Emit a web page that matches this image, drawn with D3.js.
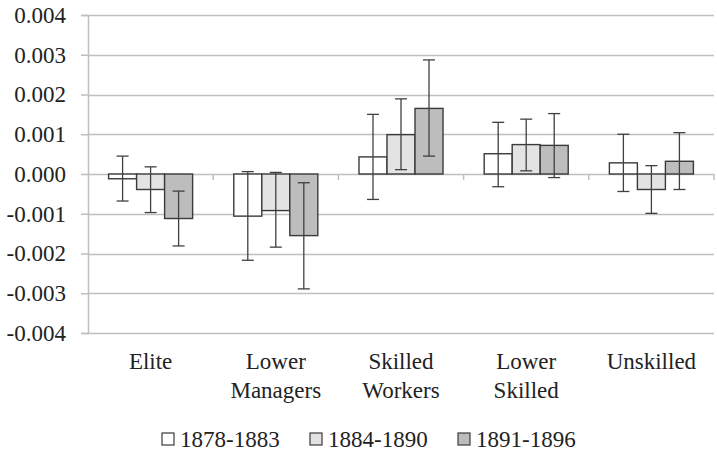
<!DOCTYPE html>
<html>
<head>
<meta charset="utf-8">
<script src="https://cdn.jsdelivr.net/npm/d3@7"></script>
<style>
  body { margin: 0; background: #fff; }
</style>
</head>
<body>
<svg id="chart" width="717" height="450"></svg>
<script>
// data
const categories = ["Elite", "Lower Managers", "Skilled Workers", "Lower Skilled", "Unskilled"];
const periods = ["1878-1883", "1884-1890", "1891-1896"];
const yTicks = [-0.004, -0.003, -0.002, -0.001, 0, 0.001, 0.002, 0.003, 0.004];

const values1878 = [-0.00012, -0.00106, 0.00043, 0.00051, 0.00028];
const values1884 = [-0.00039, -0.00092, 0.00099, 0.00074, -0.00039];
const values1891 = [-0.00112, -0.00155, 0.00165, 0.00072, 0.00032];

// error bar ends (top / bottom)
const hi1878 = [0.00045, 0.00006, 0.00150, 0.00130, 0.00100];
const lo1878 = [-0.00068, -0.00217, -0.00064, -0.00032, -0.00044];
const hi1884 = [0.00018, 0.00004, 0.00189, 0.00138, 0.00021];
const lo1884 = [-0.00097, -0.00184, 0.00011, 0.00008, -0.00099];
const hi1891 = [-0.00043, -0.00022, 0.00287, 0.00152, 0.00104];
const lo1891 = [-0.00181, -0.00289, 0.00045, -0.00009, -0.00039];

const fills = ["#ffffff", "#e3e3e3", "#bdbdbd"];
const FONT = "Liberation Serif";
const FSIZE = 23;

const svg = d3.select("#chart");
const margin = { top: 15, right: 3, bottom: 117, left: 88 };
const width = 717, height = 450;

const series = [
  { key: periods[0], vals: values1878, hi: hi1878, lo: lo1878 },
  { key: periods[1], vals: values1884, hi: hi1884, lo: lo1884 },
  { key: periods[2], vals: values1891, hi: hi1891, lo: lo1891 }
];

const x0 = d3.scaleBand()
  .domain(categories)
  .range([margin.left, width - margin.right])
  .paddingInner(0).paddingOuter(0);

const x1 = d3.scaleBand()
  .domain(periods)
  .range([0, x0.bandwidth()])
  .paddingInner(0)
  .paddingOuter(0.735);

const y = d3.scaleLinear()
  .domain([-0.004, 0.004])
  .range([height - margin.bottom, margin.top]);

const color = d3.scaleOrdinal().domain(periods).range(fills);
const fmt = d3.format(".3f");

// gridlines
svg.append("g")
  .selectAll("line")
  .data(yTicks)
  .join("line")
  .attr("x1", margin.left)
  .attr("x2", width - margin.right)
  .attr("y1", d => Math.round(y(d)) + 0.5)
  .attr("y2", d => Math.round(y(d)) + 0.5)
  .attr("stroke", "#bfbfbf")
  .attr("stroke-width", 1.5);

// y axis
const yAxis = svg.append("g")
  .attr("transform", `translate(${margin.left},0)`)
  .call(d3.axisLeft(y).tickValues(yTicks).tickFormat(d => fmt(d).replace("−", "-")).tickSize(7).tickPadding(15));
yAxis.attr("font-family", FONT).attr("font-size", FSIZE);
yAxis.select(".domain").attr("stroke", "#bfbfbf").attr("stroke-width", 1.5);
yAxis.selectAll(".tick line").attr("stroke", "#bfbfbf").attr("stroke-width", 1.5);
yAxis.selectAll(".tick text").attr("fill", "#222");

// category ticks below the zero line
svg.append("g")
  .selectAll("line")
  .data(categories)
  .join("line")
  .attr("x1", d => x0(d) + x0.bandwidth())
  .attr("x2", d => x0(d) + x0.bandwidth())
  .attr("y1", y(0))
  .attr("y2", y(0) + 6)
  .attr("stroke", "#bfbfbf")
  .attr("stroke-width", 1.5);

// bars
const groups = svg.append("g")
  .selectAll("g")
  .data(series)
  .join("g")
  .attr("fill", d => color(d.key));

groups.selectAll("rect")
  .data(s => s.vals.map((v, i) => ({ key: s.key, cat: categories[i], v })))
  .join("rect")
  .attr("x", d => x0(d.cat) + x1(d.key))
  .attr("width", x1.bandwidth())
  .attr("y", d => y(Math.max(0, d.v)))
  .attr("height", d => Math.abs(y(d.v) - y(0)))
  .attr("stroke", "#3a3a3a")
  .attr("stroke-width", 1.4);

// error bars
const errs = [];
series.forEach(s => {
  categories.forEach((c, i) => {
    errs.push({ key: s.key, cat: c, hi: s.hi[i], lo: s.lo[i] });
  });
});
const eg = svg.append("g").attr("stroke", "#404040").attr("stroke-width", 1.3);
const cx = d => x0(d.cat) + x1(d.key) + x1.bandwidth() / 2;
eg.selectAll("line.v")
  .data(errs)
  .join("line")
  .attr("class", "v")
  .attr("x1", cx).attr("x2", cx)
  .attr("y1", d => y(d.hi)).attr("y2", d => y(d.lo));
eg.selectAll("line.t")
  .data(errs)
  .join("line")
  .attr("class", "t")
  .attr("x1", d => cx(d) - 6).attr("x2", d => cx(d) + 6)
  .attr("y1", d => y(d.hi)).attr("y2", d => y(d.hi));
eg.selectAll("line.b")
  .data(errs)
  .join("line")
  .attr("class", "b")
  .attr("x1", d => cx(d) - 6).attr("x2", d => cx(d) + 6)
  .attr("y1", d => y(d.lo)).attr("y2", d => y(d.lo));

// category labels (wrapped)
const labels = svg.append("g").attr("font-family", FONT).attr("font-size", FSIZE).attr("fill", "#222");
categories.forEach(c => {
  const words = c.split(" ");
  const t = labels.append("text")
    .attr("text-anchor", "middle")
    .attr("x", x0(c) + x0.bandwidth() / 2)
    .attr("y", 369);
  words.forEach((w, i) => {
    t.append("tspan")
      .attr("x", x0(c) + x0.bandwidth() / 2)
      .attr("dy", i === 0 ? 0 : 29)
      .text(w);
  });
});

// legend
const legend = svg.append("g")
  .attr("transform", "translate(162,433)")
  .attr("font-family", FONT).attr("font-size", FSIZE).attr("fill", "#222");
periods.forEach((p, i) => {
  const g = legend.append("g").attr("transform", `translate(${i * 148},0)`);
  g.append("rect")
    .attr("width", 12).attr("height", 12)
    .attr("fill", color(p))
    .attr("stroke", "#3a3a3a").attr("stroke-width", 1.2);
  g.append("text")
    .attr("x", 18).attr("y", 13.5)
    .text(p);
});
</script>
</body>
</html>
